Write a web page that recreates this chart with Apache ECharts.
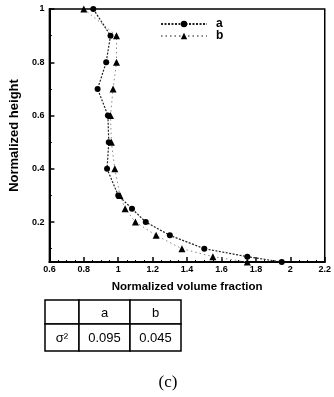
<!DOCTYPE html>
<html>
<head>
<meta charset="UTF-8">
<script src="https://cdn.jsdelivr.net/npm/echarts@6/dist/echarts.min.js"></script>
<style>
  html, body { margin: 0; padding: 0; background: #fff; }
  #chart { width: 334px; height: 397px; }
</style>
</head>
<body>
<div id="chart"></div>
<script>
// normalized height (y) and normalized volume fraction (x) for the two profiles
var heightA = [1, 0.9, 0.8, 0.7, 0.6, 0.5, 0.4, 0.3, 0.25, 0.2, 0.15, 0.1, 0.07, 0.05];
var fracA   = [0.855, 0.955, 0.93, 0.88, 0.94, 0.945, 0.935, 1.0, 1.08, 1.16, 1.3, 1.5, 1.75, 1.95];
var heightB = [1, 0.9, 0.8, 0.7, 0.6, 0.5, 0.4, 0.3, 0.25, 0.2, 0.15, 0.1, 0.07, 0.05];
var fracB   = [0.80, 0.99, 0.99, 0.97, 0.955, 0.96, 0.98, 1.01, 1.04, 1.10, 1.22, 1.37, 1.55, 1.75];

var yLabels = [0.2, 0.4, 0.6, 0.8, 1];
var yMinorTicks = [0.1, 0.3, 0.5, 0.7, 0.9];

var tableHead = ['', 'a', 'b'];
var tableRow = ['σ²', '0.095', '0.045'];

function pairs(xs, ys) {
    return xs.map(function (x, i) { return [x, ys[i]]; });
}

var font = 'Liberation Sans';
var chart = echarts.init(document.getElementById('chart'));

// table under the chart
var colX = [45, 79, 130, 181];
var rowY = [300, 324, 351];
var tableEls = [];
for (var r = 0; r < 2; r++) {
    var cells = r === 0 ? tableHead : tableRow;
    for (var c = 0; c < 3; c++) {
        tableEls.push({
            type: 'rect',
            shape: { x: colX[c], y: rowY[r], width: colX[c + 1] - colX[c], height: rowY[r + 1] - rowY[r] },
            style: { fill: '#fff', stroke: '#000', lineWidth: 1.5 }
        });
        tableEls.push({
            type: 'text',
            x: (colX[c] + colX[c + 1]) / 2,
            y: (rowY[r] + rowY[r + 1]) / 2 + 1,
            style: { text: cells[c], fill: '#000', font: '13px ' + font, align: 'center', verticalAlign: 'middle' }
        });
    }
}
tableEls.push({
    type: 'text', x: 168, y: 383,
    style: { text: '(c)', fill: '#000', font: '17px "Liberation Serif"', align: 'center', verticalAlign: 'middle' }
});

chart.setOption({
    animation: false,
    backgroundColor: '#fff',
    grid: {
        left: 44, right: 7, top: 9, bottom: 135,
        show: true, borderColor: '#000', borderWidth: 1.5
    },
    legend: {
        left: 155, top: 13, orient: 'vertical', itemGap: 0,
        itemWidth: 46, itemHeight: 8,
        textStyle: { fontFamily: font, fontWeight: 'bold', fontSize: 12, color: '#000', padding: [0, 0, 0, 4] },
        data: ['a', 'b']
    },
    xAxis: {
        type: 'value', min: 0.6, max: 2.2, interval: 0.2,
        name: 'Normalized volume fraction', nameLocation: 'middle', nameGap: 19,
        nameTextStyle: { fontFamily: font, fontWeight: 'bold', fontSize: 11.5, color: '#000' },
        axisLine: { lineStyle: { color: '#000', width: 2 } },
        axisTick: { inside: true, length: 5, lineStyle: { color: '#000', width: 1.5 } },
        minorTick: { show: true, splitNumber: 4, length: 2, lineStyle: { color: '#000' } },
        axisLabel: {
            fontFamily: font, fontWeight: 'bold', fontSize: 9, color: '#000', margin: 3,
            formatter: function (v) { return +v.toFixed(1) + ''; }
        },
        splitLine: { show: false }
    },
    yAxis: [{
        type: 'value', min: 0.05, max: 1,
        name: 'Normalized height', nameLocation: 'middle', nameGap: 23, nameRotate: 90,
        nameTextStyle: { fontFamily: font, fontWeight: 'bold', fontSize: 13, color: '#000' },
        axisLine: { lineStyle: { color: '#000', width: 2 } },
        axisTick: { inside: true, length: 5, customValues: yLabels, lineStyle: { color: '#000', width: 1.5 } },
        axisLabel: {
            fontFamily: font, fontWeight: 'bold', fontSize: 9, color: '#000', margin: 5,
            customValues: yLabels
        },
        splitLine: { show: false }
    }, {
        type: 'value', min: 0.05, max: 1, position: 'left',
        axisLine: { show: false },
        axisTick: { inside: true, length: 2.5, customValues: yMinorTicks, lineStyle: { color: '#000' } },
        axisLabel: { show: false },
        splitLine: { show: false }
    }],
    series: [{
        name: 'a', type: 'line', data: pairs(fracA, heightA),
        symbol: 'circle', symbolSize: 6,
        itemStyle: { color: '#000' },
        lineStyle: { color: '#222', width: 1.2, type: [2, 1.5] }
    }, {
        name: 'b', type: 'line', data: pairs(fracB, heightB),
        symbol: 'triangle', symbolSize: 7,
        itemStyle: { color: '#000' },
        lineStyle: { color: '#888', width: 1, type: [1.5, 3] }
    }],
    graphic: tableEls
});
</script>
</body>
</html>
